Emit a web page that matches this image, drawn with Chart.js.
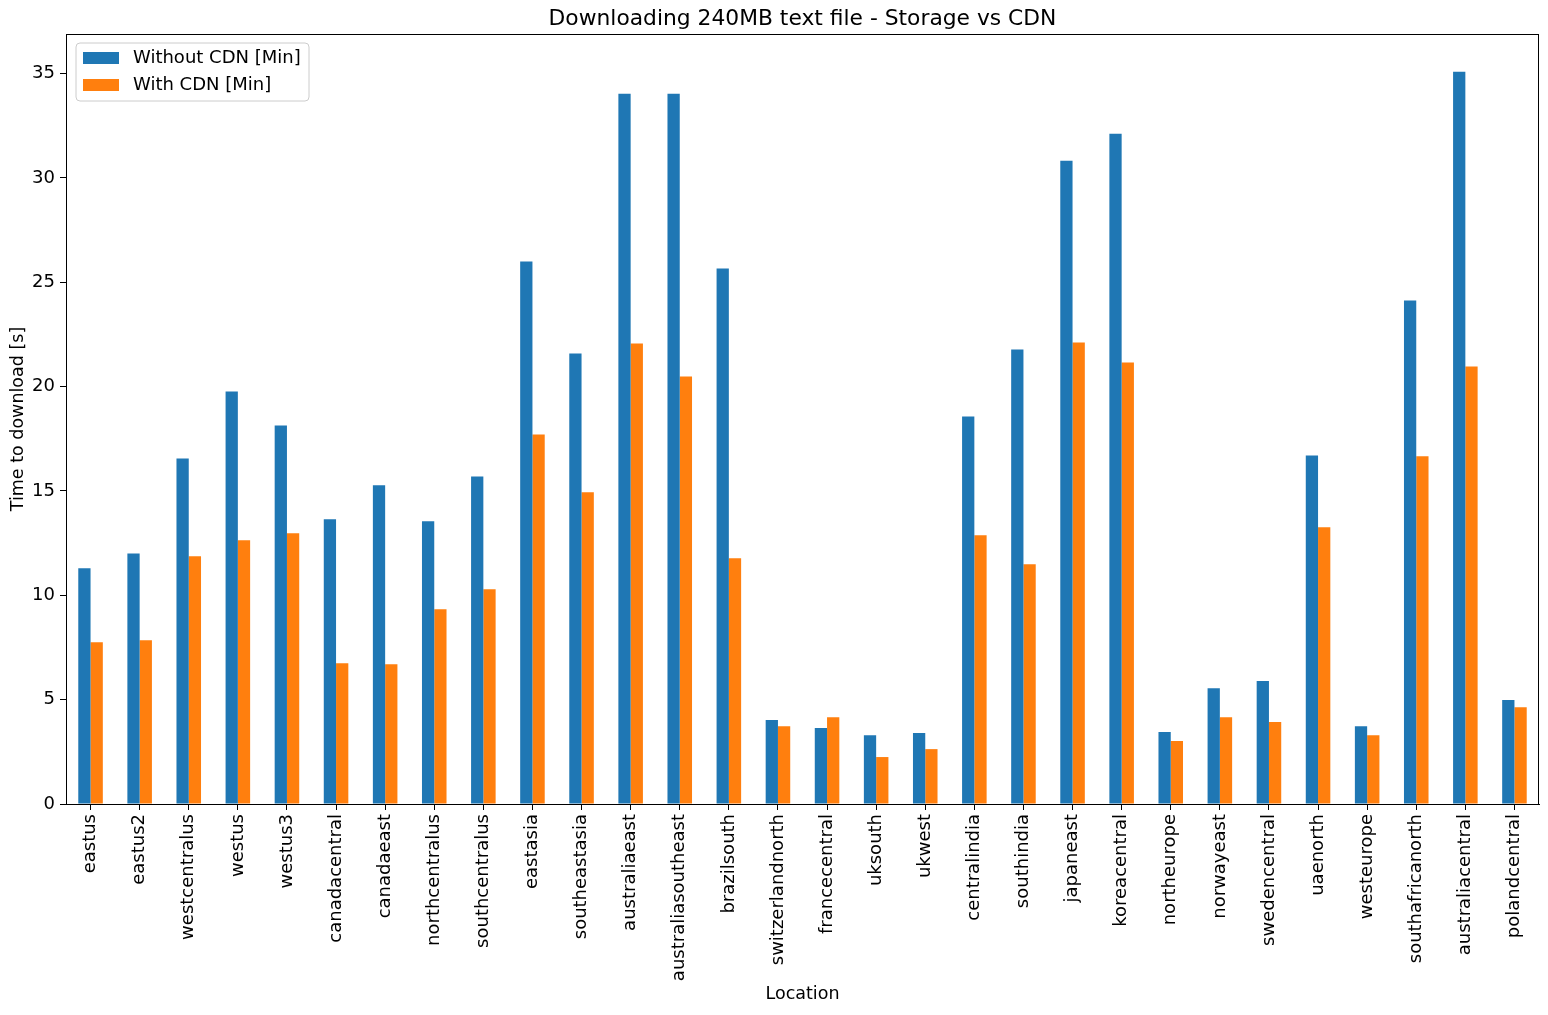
<!DOCTYPE html>
<html>
<head>
<meta charset="utf-8">
<title>Downloading 240MB text file - Storage vs CDN</title>
<script src="https://cdn.jsdelivr.net/npm/chart.js@4.4.1/dist/chart.umd.min.js"></script>
<style>
  html, body { margin: 0; padding: 0; background: #fff; }
  #wrap { width: 1548px; height: 1015px; position: relative; }
</style>
</head>
<body>
<div id="wrap"><canvas id="grafico"></canvas></div>
<script>
// dados
const locations = [
    "eastus", "eastus2", "westcentralus", "westus", "westus3", "canadacentral",
    "canadaeast", "northcentralus", "southcentralus", "eastasia", "southeastasia",
    "australiaeast", "australiasoutheast", "brazilsouth", "switzerlandnorth",
    "francecentral", "uksouth", "ukwest", "centralindia", "southindia", "japaneast",
    "koreacentral", "northeurope", "norwayeast", "swedencentral", "uaenorth",
    "westeurope", "southafricanorth", "australiacentral", "polandcentral"
];
const withoutCdn = [
    11.3, 12.0, 16.56, 19.77, 18.14, 13.64, 15.27, 13.55, 15.7, 26.0, 21.59,
    34.04, 34.04, 25.66, 4.02, 3.64, 3.3, 3.4, 18.57, 21.78, 30.83, 32.12,
    3.45, 5.55, 5.89, 16.7, 3.73, 24.13, 35.09, 4.98
];
const withCdn = [
    7.75, 7.85, 11.87, 12.64, 12.97, 6.75, 6.7, 9.33, 10.29, 17.71, 14.94,
    22.07, 20.49, 11.78, 3.73, 4.16, 2.25, 2.63, 12.88, 11.49, 22.12, 21.16,
    3.02, 4.16, 3.93, 13.26, 3.3, 16.66, 20.97, 4.64
];
const titulo = "Downloading 240MB text file - Storage vs CDN";

const FONT = "'DejaVu Sans', sans-serif";
const azul = "#1f77b4";
const laranja = "#ff7f0e";

// título centrado no eixo, borda (topo e direita) + legenda dentro do gráfico
const molduraLegenda = {
    id: "molduraLegenda",
    afterDraw(chart) {
        const ctx = chart.ctx;
        const a = chart.chartArea;
        ctx.save();

        ctx.fillStyle = "#000";
        ctx.font = "21.8px " + FONT;
        ctx.textAlign = "center";
        ctx.textBaseline = "middle";
        ctx.fillText(titulo, (a.left + a.right) / 2, 19);
        ctx.textAlign = "left";

        ctx.strokeStyle = "#000";
        ctx.lineWidth = 1;
        ctx.strokeRect(a.left + 0.5, a.top + 0.5, a.right - a.left - 1, a.bottom - a.top);

        // caixa da legenda
        const x = a.left + 10, y = a.top + 9, w = 233, h = 58, r = 4;
        ctx.beginPath();
        ctx.moveTo(x + r, y);
        ctx.arcTo(x + w, y, x + w, y + h, r);
        ctx.arcTo(x + w, y + h, x, y + h, r);
        ctx.arcTo(x, y + h, x, y, r);
        ctx.arcTo(x, y, x + w, y, r);
        ctx.closePath();
        ctx.fillStyle = "rgba(255,255,255,0.8)";
        ctx.fill();
        ctx.strokeStyle = "#cccccc";
        ctx.stroke();

        ctx.font = "18px " + FONT;
        ctx.textBaseline = "middle";
        chart.data.datasets.forEach((ds, i) => {
            const ly = y + 9 + i * 27;
            ctx.fillStyle = ds.backgroundColor;
            ctx.fillRect(x + 7, ly, 36, 12);
            ctx.fillStyle = "#000";
            ctx.fillText(ds.label, x + 57, ly + 6);
        });
        ctx.restore();
    }
};

new Chart(document.getElementById("grafico"), {
    type: "bar",
    data: {
        labels: locations,
        datasets: [
            { label: "Without CDN [Min]", data: withoutCdn, backgroundColor: azul },
            { label: "With CDN [Min]", data: withCdn, backgroundColor: laranja }
        ]
    },
    options: {
        responsive: true,
        maintainAspectRatio: false,
        animation: false,
        devicePixelRatio: 1,
        layout: { padding: { left: 0, right: 9, top: 34, bottom: 0 } },
        datasets: { bar: { categoryPercentage: 0.5, barPercentage: 1.0 } },
        scales: {
            x: {
                offset: true,
                grid: { offset: false, drawOnChartArea: false, drawTicks: true, tickLength: 6, tickColor: "#000" },
                border: { display: true, color: "#000", width: 1 },
                ticks: {
                    autoSkip: false, minRotation: 90, maxRotation: 90, padding: 4,
                    color: "#000", font: { family: FONT, size: 18 }
                },
                title: {
                    display: true, text: "Location", color: "#000",
                    font: { family: FONT, size: 17.5 }, padding: { top: 4, bottom: 10 }
                },
                afterFit(scale) { scale.height = 211; }
            },
            y: {
                min: 0,
                max: 36.9,
                grid: { drawOnChartArea: false, drawTicks: true, tickLength: 6, tickColor: "#000" },
                border: { display: true, color: "#000", width: 1 },
                ticks: {
                    stepSize: 5, includeBounds: false, padding: 5,
                    color: "#000", font: { family: FONT, size: 18 }
                },
                title: {
                    display: true, text: "Time to download [s]", color: "#000",
                    font: { family: FONT, size: 17.5 }, padding: { top: 8, bottom: 0 }
                },
                afterFit(scale) { scale.width = 66; }
            }
        },
        plugins: {
            legend: { display: false },
            tooltip: { enabled: false },
            title: { display: false }
        }
    },
    plugins: [molduraLegenda]
});
</script>
</body>
</html>
